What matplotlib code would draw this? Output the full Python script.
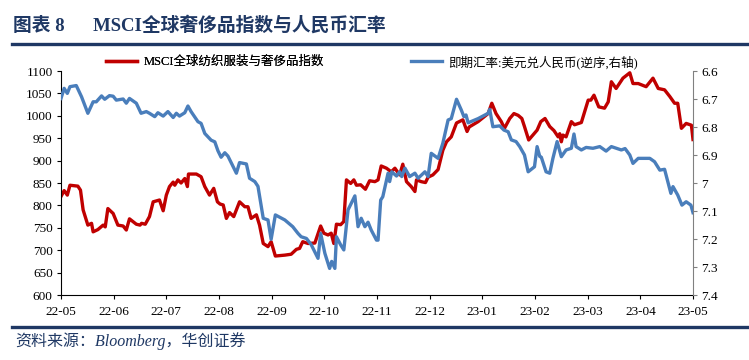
import matplotlib
matplotlib.use("Agg")
import matplotlib.pyplot as plt
from matplotlib.lines import Line2D
from matplotlib.ticker import FuncFormatter

# ---- data (time in months since 2022-05) ----
month_labels = ['22-05', '22-06', '22-07', '22-08', '22-09', '22-10', '22-11',
                '22-12', '23-01', '23-02', '23-03', '23-04', '23-05']

msci_t = [0.00, 0.06, 0.12, 0.17, 0.32, 0.37, 0.42, 0.51, 0.58, 0.61, 0.70, 0.80, 0.84, 0.89,
          0.99, 1.08, 1.18, 1.24, 1.30, 1.43, 1.50, 1.53, 1.60, 1.68, 1.75, 1.87, 1.94, 2.00,
          2.06, 2.13, 2.16, 2.22, 2.28, 2.35, 2.40, 2.42, 2.57, 2.66, 2.73, 2.82, 2.90, 2.97,
          3.02, 3.08, 3.14, 3.20, 3.28, 3.39, 3.49, 3.55, 3.61, 3.71, 3.77, 3.84, 3.93, 3.99,
          4.07, 4.25, 4.37, 4.47, 4.53, 4.59, 4.69, 4.82, 4.93, 4.99, 5.07, 5.13, 5.18, 5.23,
          5.31, 5.37, 5.42, 5.50, 5.56, 5.61, 5.69, 5.78, 5.86, 5.96, 6.02, 6.08, 6.18, 6.27,
          6.34, 6.43, 6.49, 6.56, 6.65, 6.72, 6.75, 6.84, 6.92, 6.97, 7.06, 7.16, 7.25, 7.32,
          7.41, 7.51, 7.63, 7.71, 7.75, 7.92, 8.11, 8.18, 8.26, 8.36, 8.42, 8.52, 8.60, 8.68,
          8.75, 8.80, 8.88, 8.96, 9.04, 9.11, 9.19, 9.28, 9.36, 9.44, 9.47, 9.50, 9.53, 9.59,
          9.69, 9.75, 9.88, 10.01, 10.06, 10.12, 10.21, 10.32, 10.39, 10.45, 10.54, 10.67,
          10.80, 10.86, 10.96, 11.11, 11.24, 11.34, 11.46, 11.56, 11.65, 11.71, 11.78, 11.87,
          11.97, 12.00]
msci_v = [820, 833, 823, 845, 843, 834, 790, 756, 760, 741, 746, 756, 752, 793,
          782, 756, 754, 745, 770, 758, 756, 760, 758, 775, 808, 812, 788, 823,
          842, 852, 845, 857, 850, 860, 842, 870, 870, 864, 842, 823, 838, 808,
          803, 801, 771, 784, 775, 808, 797, 797, 771, 779, 756, 715, 708, 719,
          687, 689, 691, 702, 704, 719, 715, 716, 754, 738, 734, 738, 715, 758,
          757, 764, 857, 849, 857, 845, 846, 836, 855, 853, 857, 888, 883, 875,
          883, 868, 892, 853, 842, 831, 857, 853, 851, 863, 868, 880, 923, 942,
          953, 984, 991, 965, 975, 987, 1005, 1028, 1005, 987, 972, 994, 1005, 1001,
          994, 976, 946, 957, 968, 987, 994, 976, 967, 953, 960, 942, 957, 953,
          987, 980, 985, 1035, 1035, 1046, 1020, 1017, 1031, 1076, 1061, 1084,
          1096, 1072, 1072, 1065, 1084, 1061, 1058, 1043, 1028, 1028, 972, 983,
          979, 947]

fx_t = [0.00, 0.06, 0.12, 0.17, 0.29, 0.39, 0.51, 0.61, 0.67, 0.77, 0.83, 0.92, 0.99, 1.05,
        1.18, 1.24, 1.30, 1.43, 1.52, 1.62, 1.68, 1.78, 1.84, 1.94, 2.03, 2.13, 2.19, 2.25,
        2.35, 2.41, 2.47, 2.60, 2.66, 2.73, 2.79, 2.85, 2.92, 2.98, 3.04, 3.11, 3.17, 3.33,
        3.39, 3.52, 3.58, 3.68, 3.74, 3.84, 3.93, 3.99, 4.07, 4.25, 4.40, 4.50, 4.56, 4.66,
        4.75, 4.88, 4.93, 5.01, 5.10, 5.14, 5.20, 5.23, 5.31, 5.37, 5.45, 5.58, 5.64, 5.70,
        5.77, 5.83, 5.89, 5.99, 6.02, 6.07, 6.11, 6.21, 6.24, 6.28, 6.37, 6.43, 6.47, 6.53,
        6.62, 6.72, 6.78, 6.91, 6.97, 7.03, 7.16, 7.25, 7.35, 7.41, 7.51, 7.60, 7.65, 7.69,
        7.73, 7.92, 8.11, 8.14, 8.20, 8.33, 8.41, 8.49, 8.55, 8.64, 8.71, 8.80, 8.87, 8.99,
        9.04, 9.09, 9.12, 9.21, 9.28, 9.34, 9.42, 9.50, 9.59, 9.69, 9.74, 9.78, 9.88, 9.97,
        10.10, 10.23, 10.35, 10.45, 10.64, 10.71, 10.80, 10.86, 10.96, 11.18, 11.27, 11.37,
        11.46, 11.58, 11.62, 11.71, 11.79, 11.87, 11.96, 12.00]
fx_v = [6.698, 6.662, 6.680, 6.656, 6.652, 6.692, 6.751, 6.710, 6.710, 6.689, 6.701, 6.688, 6.690, 6.704,
        6.700, 6.715, 6.698, 6.715, 6.751, 6.745, 6.751, 6.763, 6.749, 6.761, 6.745, 6.766, 6.751, 6.761,
        6.749, 6.725, 6.745, 6.781, 6.787, 6.823, 6.835, 6.847, 6.853, 6.885, 6.908, 6.892, 6.904, 6.965,
        6.927, 6.932, 6.983, 6.995, 7.012, 7.126, 7.132, 7.201, 7.114, 7.132, 7.156, 7.180, 7.192, 7.198,
        7.220, 7.269, 7.180, 7.251, 7.305, 7.280, 7.305, 7.192, 7.221, 7.239, 7.096, 7.046, 7.156, 7.126,
        7.156, 7.140, 7.168, 7.204, 7.204, 7.061, 7.049, 6.965, 6.995, 6.960, 6.975, 6.960, 6.977, 6.947,
        6.977, 6.965, 6.983, 6.960, 6.977, 6.894, 6.912, 6.858, 6.775, 6.770, 6.701, 6.739, 6.763, 6.757,
        6.785, 6.770, 6.751, 6.737, 6.799, 6.796, 6.811, 6.817, 6.846, 6.852, 6.870, 6.900, 6.960, 6.942,
        6.870, 6.905, 6.908, 6.960, 6.965, 6.912, 6.852, 6.906, 6.882, 6.876, 6.825, 6.870, 6.882, 6.873,
        6.876, 6.870, 6.886, 6.870, 6.882, 6.877, 6.900, 6.930, 6.912, 6.912, 6.924, 6.954,
        6.951, 7.037, 7.013, 7.043, 7.079, 7.067, 7.079, 7.106]

left_ticks = list(range(600, 1101, 50))
right_ticks = [6.6, 6.7, 6.8, 6.9, 7.0, 7.1, 7.2, 7.3, 7.4]

title_text = '图表 8      MSCI全球奢侈品指数与人民币汇率'
source_text = '资料来源：Bloomberg，华创证券'
msci_label = 'MSCI全球纺织服装与奢侈品指数'
fx_label = '即期汇率:美元兑人民币(逆序,右轴)'

# ---- styling ----
navy = '#1F3864'
red = '#C00000'
blue = '#4A7EBB'
serif_cjk = ['Liberation Serif', 'Noto Sans CJK SC']
plt.rcParams['font.family'] = serif_cjk

W, H = 749, 360
fig = plt.figure(figsize=(W / 100, H / 100), dpi=100)
ax = fig.add_axes([61 / W, 1 - 295 / H, (693 - 61) / W, (295 - 71) / H])
ax2 = ax.twinx()

l1, = ax.plot(msci_t, msci_v, color=red, lw=2.4, solid_joinstyle='round', zorder=2)
l2, = ax2.plot(fx_t, fx_v, color=blue, lw=2.4, solid_joinstyle='round', zorder=3)

ax.set_xlim(0, 12)
ax.set_ylim(600, 1100)
ax.set_yticks(left_ticks)
ax.set_xticks(range(len(month_labels)))
ax.set_xticklabels(month_labels)
ax2.set_ylim(7.4, 6.6)
ax2.set_yticks(right_ticks)
ax2.yaxis.set_major_formatter(FuncFormatter(lambda v, p: ('%.1f' % v).rstrip('0').rstrip('.')))

for a in (ax, ax2):
    a.spines['top'].set_visible(False)
ax.spines['right'].set_visible(False)
ax2.spines['left'].set_visible(False)
ax2.spines['bottom'].set_visible(False)
ax2.spines['right'].set_color('#808080')
ax.spines['left'].set_color('black')
ax.spines['bottom'].set_color('black')

ax.tick_params(axis='both', direction='out', length=3, width=0.8, labelsize=9.5, pad=3)
ax.tick_params(axis='x', pad=5)
ax2.tick_params(axis='y', direction='out', length=3, width=0.8, colors='#808080',
                labelcolor='black', labelsize=9.5, pad=3)
for lab in ax.get_xticklabels() + ax.get_yticklabels() + ax2.get_yticklabels():
    lab.set_family('Liberation Serif')

# legends
leg1 = fig.legend(handles=[l1], labels=[msci_label], loc='center left',
                  bbox_to_anchor=(106 / W, 1 - 62 / H), frameon=False, fontsize=9,
                  handlelength=2.5, handletextpad=0.5, borderpad=0, borderaxespad=0)
leg2 = fig.legend(handles=[l2], labels=[fx_label], loc='center left',
                  bbox_to_anchor=(411 / W, 1 - 62 / H), frameon=False, fontsize=9,
                  handlelength=2.5, handletextpad=0.5, borderpad=0, borderaxespad=0)
fig.add_artist(leg1)

# header / footer
fig.text(13 / W, 1 - 25 / H, title_text, fontsize=13.5, fontweight='bold', color=navy,
         va='center', ha='left', family=serif_cjk)
fig.add_artist(Line2D([12 / W, 1.0], [1 - 44 / H, 1 - 44 / H], transform=fig.transFigure,
                      color=navy, lw=2.4))
fig.add_artist(Line2D([12 / W, 1.0], [1 - 327 / H, 1 - 327 / H], transform=fig.transFigure,
                      color=navy, lw=2.4))
fig.text(15 / W, 1 - 341 / H, source_text, fontsize=11.5, style='italic', color=navy,
         va='center', ha='left', family=serif_cjk)

fig.savefig('out.png', dpi=100)
